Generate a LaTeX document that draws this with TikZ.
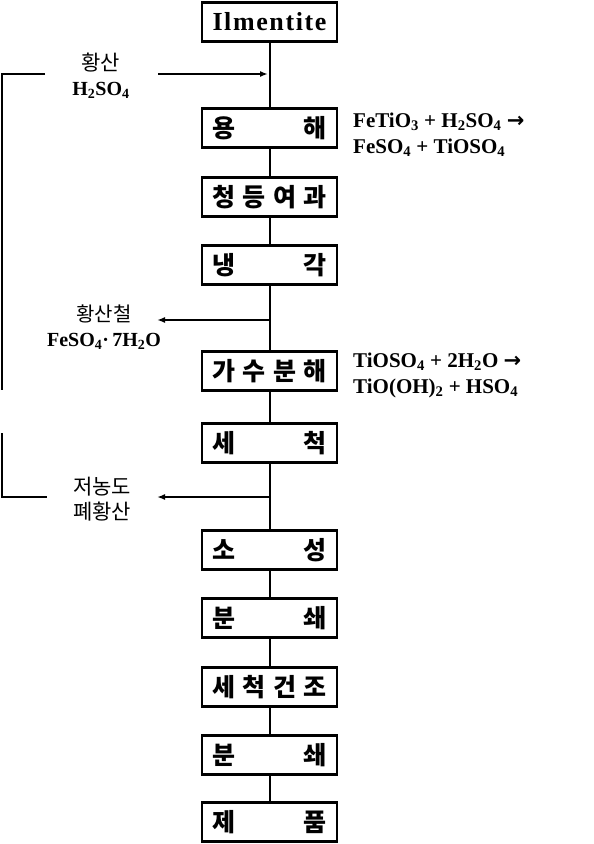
\documentclass[tikz,border=0pt]{standalone}
\usepackage{fontspec}
\setmainfont{Liberation Serif}
\newfontfamily\kr{Noto Sans CJK KR}
\newfontfamily\arr{DejaVu Sans}
\usetikzlibrary{arrows.meta}
\newcommand\spread[1]{\makebox[114pt][s]{#1}}
\newcommand\rarr{{\arr\bfseries →}}
\tikzset{
  stepbox/.style={draw, line width=2.2pt, minimum width=135pt, minimum height=39pt,
    inner sep=0pt, font=\kr\bfseries\fontsize{25}{25}\selectfont},
  conn/.style={line width=2pt},
  branch/.style={line width=1.6pt, -{Latex[length=8pt,width=6pt]}},
  bracket/.style={line width=1.5pt},
  lbl/.style={align=center, font=\bfseries\fontsize{20}{25}\selectfont},
  rx/.style={anchor=west, align=left, inner sep=0pt, font=\bfseries\fontsize{21}{26}\selectfont},
}
\begin{document}
\begin{tikzpicture}[x=1pt,y=-1pt]
\useasboundingbox (0,0) rectangle (594,844);
% process boxes
\node[stepbox] (b0) at (269.5,22) {\rmfamily\bfseries\fontsize{26}{26}\selectfont\makebox[114pt][s]{I\hfill l\hfill m\hfill e\hfill n\hfill t\hfill i\hfill t\hfill e}};
\node[stepbox] (b1) at (269.5,128) {\spread{용\hfill 해}};
\node[stepbox] (b2) at (269.5,197) {\spread{청\hfill 등\hfill 여\hfill 과}};
\node[stepbox] (b3) at (269.5,265) {\spread{냉\hfill 각}};
\node[stepbox] (b4) at (269.5,371) {\spread{가\hfill 수\hfill 분\hfill 해}};
\node[stepbox] (b5) at (269.5,443) {\spread{세\hfill 척}};
\node[stepbox] (b6) at (269.5,550) {\spread{소\hfill 성}};
\node[stepbox] (b7) at (269.5,618) {\spread{분\hfill 쇄}};
\node[stepbox] (b8) at (269.5,687) {\spread{세\hfill 척\hfill 건\hfill 조}};
\node[stepbox] (b9) at (269.5,755) {\spread{분\hfill 쇄}};
\node[stepbox] (b10) at (269.5,822) {\spread{제\hfill 품}};
% main line
\foreach \a/\b in {b0/b1,b1/b2,b2/b3,b3/b4,b4/b5,b5/b6,b6/b7,b7/b8,b8/b9,b9/b10}
  \draw[conn] (\a.south) -- (\b.north);
% reactions
\node[rx] (r1) at (353,135) {FeTiO\textsubscript{3} + H\textsubscript{2}SO\textsubscript{4} \rarr\\FeSO\textsubscript{4} + TiOSO\textsubscript{4}};
\node[rx] (r2) at (353,375) {TiOSO\textsubscript{4} + 2H\textsubscript{2}O \rarr\\TiO(OH)\textsubscript{2} + HSO\textsubscript{4}};
% side labels
\node[lbl] (l1) at (101,76) {{\kr\mdseries\fontsize{21}{21}\selectfont 황산}\\H\textsubscript{2}SO\textsubscript{4}};
\node[lbl] (l2) at (104,327) {{\kr\mdseries\fontsize{20}{20}\selectfont 황산철}\\FeSO\textsubscript{4}·\,7H\textsubscript{2}O};
\node[align=center, font=\kr\fontsize{21}{25}\selectfont] (l3) at (102,499) {저농도\\폐황산};
% branch points
\coordinate (j1) at (268,74);
\coordinate (i1) at (158,74);
\coordinate (j2) at (269.5,320);
\coordinate (o2) at (157,320);
\coordinate (j3) at (269.5,497);
\coordinate (o3) at (157,497);
\draw[branch] (i1) -- (j1);
\draw[branch] (j2) -- (o2);
\draw[branch] (j3) -- (o3);
% recycle bracket
\coordinate (t1) at (45,74);
\coordinate (t2) at (2,390);
\coordinate (t3) at (2,433);
\coordinate (t4) at (47,497);
\draw[bracket] (t1) -| (t2);
\draw[bracket] (t3) |- (t4);
\end{tikzpicture}
\end{document}
